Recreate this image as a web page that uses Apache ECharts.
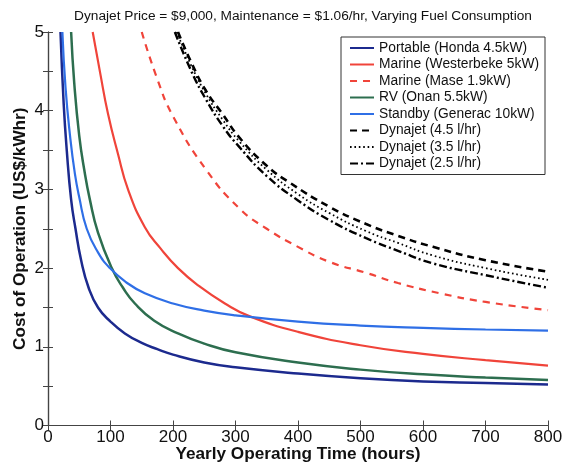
<!DOCTYPE html>
<html><head><meta charset="utf-8">
<script src="https://cdn.jsdelivr.net/npm/echarts@6/dist/echarts.min.js"></script>
<style>html,body{margin:0;padding:0;background:#fff}#c{width:564px;height:465px}</style>
</head><body><div id="c"></div>
<script>
const titleText = 'Dynajet Price = $9,000, Maintenance = $1.06/hr, Varying Fuel Consumption';
const xTicks = [0,100,200,300,400,500,600,700,800];
const yTicks = [0,1,2,3,4,5];
const seriesNames = ['Portable (Honda 4.5kW)','Marine (Westerbeke 5kW)','Marine (Mase 1.9kW)','RV (Onan 5.5kW)','Standby (Generac 10kW)','Dynajet (4.5 l/hr)','Dynajet (3.5 l/hr)','Dynajet (2.5 l/hr)'];
const portable = [[20,5.0],[25,4.1],[30,3.5],[37,2.87],[44,2.5],[53,2.1],[65,1.75],[80,1.5],[100,1.32],[123,1.17],[150,1.05],[175,0.97],[200,0.9],[250,0.8],[300,0.74],[400,0.66],[500,0.6],[600,0.56],[700,0.54],[800,0.52]];
const westerbeke = [[71.5,5.0],[83,4.5],[96,3.96],[112,3.45],[128,3.0],[155,2.52],[180,2.25],[208,2.0],[242,1.77],[283,1.55],[322,1.39],[400,1.19],[500,1.02],[600,0.91],[700,0.83],[800,0.76]];
const mase = [[150,5.0],[175,4.4],[200,3.93],[253,3.25],[306,2.76],[350,2.5],[400,2.27],[450,2.08],[509,1.94],[560,1.81],[627,1.68],[700,1.57],[800,1.465]];
const rv = [[37,5.0],[42,4.35],[50,3.68],[58,3.25],[67,2.87],[80,2.45],[102,2.0],[120,1.75],[139,1.55],[170,1.33],[208,1.17],[250,1.04],[300,0.93],[400,0.8],[500,0.71],[600,0.65],[700,0.61],[800,0.578]];
const standby = [[23,5.0],[28,4.3],[35,3.7],[43,3.2],[50,2.9],[62,2.5],[80,2.2],[99,2.0],[125,1.82],[155,1.68],[200,1.55],[250,1.46],[300,1.4],[400,1.32],[500,1.27],[600,1.24],[700,1.22],[800,1.205]];
const dyn45 = [[208,5.0],[230,4.6],[253,4.25],[280,3.95],[306,3.66],[350,3.3],[386,3.09],[450,2.78],[509,2.56],[560,2.41],[616,2.27],[700,2.1],[800,1.954]];
const dyn35 = [[206,5.0],[230,4.56],[253,4.21],[280,3.88],[306,3.61],[350,3.25],[400,2.94],[450,2.70],[509,2.47],[560,2.32],[616,2.16],[700,2.0],[800,1.85]];
const dyn25 = [[203,5.0],[230,4.49],[253,4.14],[280,3.8],[306,3.54],[350,3.17],[400,2.86],[450,2.61],[509,2.38],[560,2.22],[616,2.06],[700,1.91],[800,1.75]];

const seriesData = [portable, westerbeke, mase, rv, standby, dyn45, dyn35, dyn25];
const colors = ['#1c2a8e','#f0443a','#f0443a','#2d6e4f','#2f6fe6','#000000','#000000','#000000'];
const widths = [2.5,2.2,2.2,2.5,2.2,2.6,1.8,2.4];
const dashes = ['solid','solid',[7,6],'solid','solid',[7,5],[1.6,2.8],[8,3,2,3]];

const font = 'Liberation Sans, Arial, Helvetica, sans-serif';
const chart = echarts.init(document.getElementById('c'), null, {renderer:'canvas'});
const axisLine = {show:true, lineStyle:{color:'#444', width:1.2}};
chart.setOption({
  animation:false,
  backgroundColor:'#fff',
  title:{text:titleText, left:298, top:4, textAlign:'center', textStyle:{fontFamily:font, fontSize:13.7, fontWeight:'normal', color:'#111'}},
  grid:{left:48, right:16, top:32, bottom:39.5, outerBoundsMode:'none', containLabel:false},
  legend:{
    orient:'vertical', right:19, top:37, itemWidth:24, itemHeight:14, itemGap:2.5,
    padding:[4,6,4,8], backgroundColor:'#fff', borderColor:'#333', borderWidth:1,
    itemStyle:{opacity:0},
    textStyle:{fontFamily:font, fontSize:13.8, color:'#111'},
    data: seriesNames
  },
  xAxis:[{
    type:'value', min:0, max:800, interval:100, position:'bottom',
    name:'Yearly Operating Time (hours)', nameLocation:'middle', nameGap:20, nameMoveOverlap:false,
    nameTextStyle:{fontFamily:font, fontSize:17.2, fontWeight:'bold', color:'#111'},
    axisLine:axisLine, axisTick:{show:true, inside:true, length:5, lineStyle:{color:'#444'}},
    axisLabel:{fontFamily:font, fontSize:17, color:'#111', margin:3, formatter:(v)=> xTicks.includes(v)? String(v):''},
    splitLine:{show:false}
  },{
    type:'value', min:0, max:800, interval:100, position:'top',
    axisLine:axisLine, axisTick:{show:true, inside:true, length:5, lineStyle:{color:'#444'}},
    axisLabel:{show:false}, splitLine:{show:false}
  }],
  yAxis:[{
    type:'value', min:0, max:5, interval:0.5, position:'left',
    name:'Cost of Operation (US$/kWhr)', nameLocation:'middle', nameGap:19, nameRotate:90, nameMoveOverlap:false,
    nameTextStyle:{fontFamily:font, fontSize:17.2, fontWeight:'bold', color:'#111'},
    axisLine:axisLine, axisTick:{show:true, inside:true, length:5, lineStyle:{color:'#444'}},
    axisLabel:{fontFamily:font, fontSize:17, color:'#111', margin:4, formatter:(v)=> yTicks.includes(v)? String(v):''},
    splitLine:{show:false}
  },{
    type:'value', min:0, max:5, interval:0.5, position:'right',
    axisLine:axisLine, axisTick:{show:true, inside:true, length:5, lineStyle:{color:'#444'}},
    axisLabel:{show:false}, splitLine:{show:false}
  }],
  series: seriesData.map((d,i)=>({
    name: seriesNames[i], type:'line', data:d, xAxisIndex:0, yAxisIndex:0,
    symbol:'none', smooth:0.5, clip:true,
    lineStyle:{color:colors[i], width:widths[i], type:dashes[i]},
    itemStyle:{color:colors[i]}
  }))
});
</script></body></html>
